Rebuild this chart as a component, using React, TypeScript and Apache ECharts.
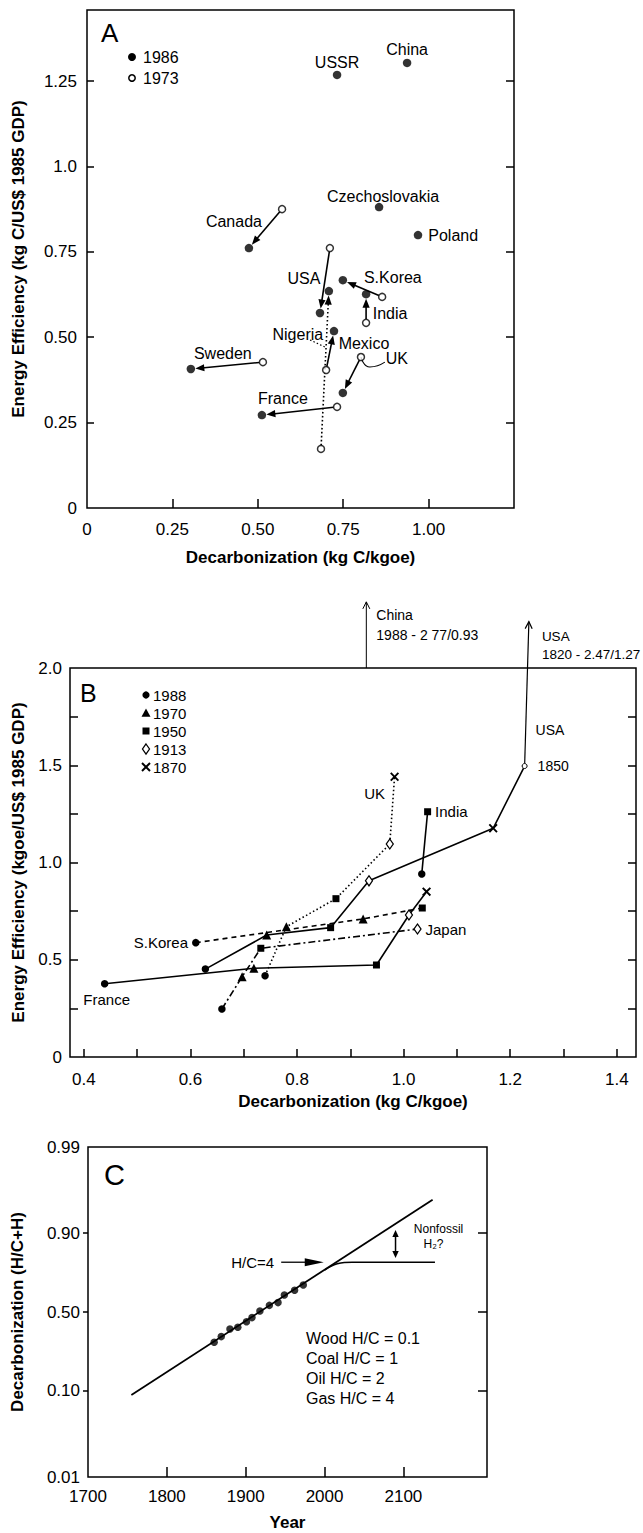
import React, { useEffect, useRef } from 'react';
import * as echarts from 'echarts';

const FONT = '"Liberation Sans", Arial, Helvetica, sans-serif';
const LOGIT = (f: number) => Math.log(f / (1 - f));

// ---------------- Panel A data ----------------
const A_COUNTRIES = ['USSR', 'China', 'Czechoslovakia', 'Poland', 'Canada', 'USA', 'S.Korea', 'India', 'Nigeria', 'Mexico', 'UK', 'Sweden', 'France'];
const A_X_1986 = [0.732, 0.937, 0.855, 0.969, 0.474, 0.682, 0.749, 0.817, 0.708, 0.723, 0.749, 0.304, 0.512];
const A_Y_1986 = [1.268, 1.303, 0.881, 0.799, 0.761, 0.571, 0.667, 0.626, 0.635, 0.518, 0.337, 0.407, 0.272];
const A_X_1973 = [null, null, null, null, 0.571, 0.711, 0.864, 0.817, 0.685, 0.700, 0.802, 0.515, 0.732];
const A_Y_1973 = [null, null, null, null, 0.875, 0.761, 0.618, 0.542, 0.173, 0.404, 0.442, 0.427, 0.296];
const A_LEGEND = ['1986', '1973'];
const A_X_TICKS = [0, 0.25, 0.5, 0.75, 1.0];
const A_X_TICK_LABELS = ['0', '0.25', '0.50', '0.75', '1.00'];
const A_Y_TICKS = [0, 0.25, 0.5, 0.75, 1.0, 1.25];
const A_Y_TICK_LABELS = ['0', '0.25', '0.50', '0.75', '1.0', '1.25'];
const A_UK_LEADER_X = [0.802, 0.828, 0.872];
const A_UK_LEADER_Y = [0.442, 0.413, 0.427];
const A_NIGERIA_LEADER_X = [0.653, 0.697];
const A_NIGERIA_LEADER_Y = [0.492, 0.471];

// ---------------- Panel B data ----------------
const B_YEARS = ['1988', '1970', '1950', '1913', '1870'];
const B_USA_YEARS = ['1988', '1970', '1950', '1913', '1870', '1850'];
const B_USA_X = [0.628, 0.743, 0.863, 0.935, 1.168, 1.227];
const B_USA_Y = [0.452, 0.627, 0.665, 0.906, 1.176, 1.496];
const B_FRANCE_YEARS = ['1988', '1970', '1950', '1913', '1870'];
const B_FRANCE_X = [0.439, 0.719, 0.949, 1.010, 1.043];
const B_FRANCE_Y = [0.377, 0.456, 0.473, 0.730, 0.850];
const B_UK_YEARS = ['1988', '1970', '1950', '1913', '1870'];
const B_UK_X = [0.740, 0.780, 0.873, 0.974, 0.983];
const B_UK_Y = [0.418, 0.670, 0.814, 1.095, 1.441];
const B_SKOREA_YEARS = ['1988', '1970', '1950'];
const B_SKOREA_X = [0.610, 0.924, 1.035];
const B_SKOREA_Y = [0.588, 0.710, 0.766];
const B_JAPAN_YEARS = ['1988', '1970', '1950', '1913'];
const B_JAPAN_X = [0.659, 0.697, 0.732, 1.026];
const B_JAPAN_Y = [0.247, 0.413, 0.559, 0.658];
const B_INDIA_YEARS = ['1988', '1950'];
const B_INDIA_X = [1.034, 1.045];
const B_INDIA_Y = [0.941, 1.261];
const B_CHINA_ARROW_FROM = [0.93, 2.0];
const B_CHINA_ARROW_TO = [0.93, 2.34];
const B_USA_ARROW_TO = [1.235, 2.238];
const B_X_TICKS = [0.4, 0.6, 0.8, 1.0, 1.2, 1.4];
const B_X_MINOR = [0.4, 0.5, 0.6, 0.7, 0.8, 0.9, 1.0, 1.1, 1.2, 1.3, 1.4];
const B_Y_TICKS = [0, 0.5, 1.0, 1.5, 2.0];
const B_Y_TICK_LABELS = ['0', '0.5', '1.0', '1.5', '2.0'];
const B_Y_MINOR = [0.25, 0.5, 0.75, 1.0, 1.25, 1.5, 1.75];

// ---------------- Panel C data ----------------
const C_YEARS = [1860, 1869, 1880, 1890, 1901, 1908, 1918, 1930, 1941, 1949, 1962, 1973];
const C_DECARB = [0.301, 0.335, 0.384, 0.395, 0.433, 0.461, 0.507, 0.546, 0.565, 0.616, 0.647, 0.680];
const C_TREND_YEARS = [1755, 2137];
const C_TREND_VALUES = [0.090, 0.958];
const C_GAS_YEARS = [2000, 2008, 2016, 2025, 2035, 2140];
const C_GAS_VALUES = [0.763, 0.781, 0.793, 0.799, 0.800, 0.800];
const C_HC4_ARROW_YEARS = [1945, 1999];
const C_HC4_LEVEL = 0.8;
const C_GAP_ARROW_YEAR = 2090;
const C_GAP_ARROW_VALUES = [0.9076, 0.818];
const C_X_TICKS = [1700, 1800, 1900, 2000, 2100];
const C_X_MINOR = [1800, 1900, 2000, 2100];
const C_Y_TICKS = [0.01, 0.10, 0.50, 0.90, 0.99];
const C_Y_TICK_LABELS = ['0.01', '0.10', '0.50', '0.90', '0.99'];
const C_Y_MINOR = [0.10, 0.50, 0.90];
const C_HC_RATIOS = ['Wood H/C = 0.1', 'Coal H/C = 1', 'Oil H/C = 2', 'Gas H/C = 4'];

// ---------------- styles / label placement ----------------
const A_LABEL_OFFSET: Record<string, number[]> = {
  USSR: [0, -12], China: [0, -13], Czechoslovakia: [4, -11], Poland: [34, 0],
  Canada: [-15, -27], USA: [-16, -34], 'S.Korea': [50, -3], India: [24, 19],
  Nigeria: [-31, 43], Mexico: [30, 12], UK: [54, -34], Sweden: [32, -15], France: [21, -17],
};
const A_DOTTED = ['Nigeria'];

const CROSS = 'path://M0,1.5L1.5,0L5,3.5L8.5,0L10,1.5L6.5,5L10,8.5L8.5,10L5,6.5L1.5,10L0,8.5L3.5,5Z';
const B_MARKER: Record<string, any> = {
  '1988': { symbol: 'circle', symbolSize: 7.5, itemStyle: { color: '#000' } },
  '1970': { symbol: 'triangle', symbolSize: 9, itemStyle: { color: '#000' } },
  '1950': { symbol: 'rect', symbolSize: 7, itemStyle: { color: '#000' } },
  '1913': { symbol: 'diamond', symbolSize: [7, 10], itemStyle: { color: '#fff', borderColor: '#000', borderWidth: 1.3 } },
  '1870': { symbol: CROSS, symbolSize: 9, itemStyle: { color: '#000' } },
  '1850': { symbol: 'circle', symbolSize: 5, itemStyle: { color: '#fff', borderColor: '#000', borderWidth: 1 } },
};

const tickStyle = { color: '#000', width: 1.5 };
const labelStyle = { color: '#000', fontSize: 17, fontFamily: FONT };
const nameStyle = { color: '#000', fontSize: 17, fontWeight: 'bold', fontFamily: FONT };
const noLine = { show: false, onZero: false };
const plainLabel = { color: '#000', textBorderWidth: 0, textShadowBlur: 0, opacity: 1 };

function lookup(ticks: number[], labels: string[]) {
  return (v: number) => {
    for (let i = 0; i < ticks.length; i++) if (Math.abs(ticks[i] - v) < 1e-6) return labels[i];
    return '';
  };
}

type ArrowText = { text: string; at: 'from' | 'to'; dx: number; dy: number; align?: string; size?: number };
type ArrowItem = {
  from: number[]; to: number[]; head: 'filled' | 'open' | 'double' | 'none';
  dash?: number[]; width?: number; gapStart?: number; gapEnd?: number;
  headLen?: number; headHalf?: number; texts?: ArrowText[];
};

function arrowSeries(items: ArrowItem[], xAxisIndex: number, yAxisIndex: number) {
  return {
    type: 'custom', xAxisIndex, yAxisIndex, z: 2, silent: true, clip: false,
    data: items.map((it) => [it.from[0], it.from[1], it.to[0], it.to[1]]),
    encode: { x: [0, 2], y: [1, 3] },
    renderItem: (params: any, api: any) => {
      const it = items[params.dataIndex];
      const p0 = api.coord([api.value(0), api.value(1)]);
      const p1 = api.coord([api.value(2), api.value(3)]);
      const dx = p1[0] - p0[0], dy = p1[1] - p0[1];
      const len = Math.hypot(dx, dy) || 1;
      const ux = dx / len, uy = dy / len;
      const gs = it.gapStart || 0, ge = it.gapEnd || 0;
      const s = [p0[0] + ux * gs, p0[1] + uy * gs];
      const e = [p1[0] - ux * ge, p1[1] - uy * ge];
      const hl = it.headLen ?? 9, hh = it.headHalf ?? 3.5;
      const lw = it.width ?? 1.6;
      const head = (tip: number[], vx: number, vy: number) => {
        const bx = tip[0] - vx * hl, by = tip[1] - vy * hl;
        return [[bx - vy * hh, by + vx * hh], tip, [bx + vy * hh, by - vx * hh]];
      };
      const children: any[] = [];
      let ls = s, le = e;
      if (it.head === 'filled' || it.head === 'double') le = [e[0] - ux * hl * 0.7, e[1] - uy * hl * 0.7];
      if (it.head === 'double') ls = [s[0] + ux * hl * 0.7, s[1] + uy * hl * 0.7];
      children.push({
        type: 'line', shape: { x1: ls[0], y1: ls[1], x2: le[0], y2: le[1] },
        style: { stroke: '#000', lineWidth: lw, lineDash: it.dash || null, fill: null },
      });
      if (it.head === 'filled' || it.head === 'double') {
        children.push({ type: 'polygon', shape: { points: head(e, ux, uy) }, style: { fill: '#000' } });
      }
      if (it.head === 'double') {
        children.push({ type: 'polygon', shape: { points: head(s, -ux, -uy) }, style: { fill: '#000' } });
      }
      if (it.head === 'open') {
        children.push({ type: 'polyline', shape: { points: head(e, ux, uy) }, style: { stroke: '#000', lineWidth: lw, fill: null } });
      }
      (it.texts || []).forEach((t) => {
        const base = t.at === 'from' ? p0 : p1;
        children.push({
          type: 'text', x: base[0] + t.dx, y: base[1] + t.dy,
          style: { text: t.text, fill: '#000', fontSize: t.size || 14, fontFamily: FONT, align: t.align || 'left', verticalAlign: 'middle' },
        });
      });
      return { type: 'group', children };
    },
  };
}

function bSeries(name: string, years: string[], xs: number[], ys: number[], lineType: any, labels: Record<string, any>) {
  return {
    type: 'line', name, xAxisIndex: 1, yAxisIndex: 2, silent: true, z: 3,
    color: '#000', showAllSymbol: true,
    lineStyle: { color: '#000', width: 1.6, type: lineType },
    data: years.map((yr, i) => {
      const m = B_MARKER[yr];
      const item: any = { value: [xs[i], ys[i]], symbol: m.symbol, symbolSize: m.symbolSize, itemStyle: m.itemStyle };
      if (labels[yr]) item.label = { show: true, ...plainLabel, fontSize: 15, fontFamily: FONT, formatter: name, ...labels[yr] };
      return item;
    }),
  };
}

function buildOption() {
  const aArrows: ArrowItem[] = [];
  A_COUNTRIES.forEach((c, i) => {
    if (A_X_1973[i] == null) return;
    aArrows.push({
      from: [A_X_1973[i] as number, A_Y_1973[i] as number], to: [A_X_1986[i], A_Y_1986[i]],
      head: 'filled', dash: A_DOTTED.includes(c) ? [1.6, 2.4] : undefined, width: 1.6,
      gapStart: 3.5, gapEnd: 4.5, headLen: 9, headHalf: 3.6,
    });
  });

  const bArrows: ArrowItem[] = [
    {
      from: B_CHINA_ARROW_FROM, to: B_CHINA_ARROW_TO, head: 'open', width: 1, headLen: 7, headHalf: 3.5,
      texts: [
        { text: 'China', at: 'to', dx: 10, dy: 13 },
        { text: '1988 - 2 77/0.93', at: 'to', dx: 10, dy: 33 },
      ],
    },
    {
      from: [B_USA_X[5], B_USA_Y[5]], to: B_USA_ARROW_TO, head: 'open', width: 1.2, gapStart: 2.5, headLen: 7, headHalf: 3.5,
      texts: [
        { text: 'USA', at: 'to', dx: 13, dy: 15, size: 13.5 },
        { text: '1820 - 2.47/1.27', at: 'to', dx: 13, dy: 33, size: 13.5 },
        { text: 'USA', at: 'from', dx: 11, dy: -36 },
        { text: '1850', at: 'from', dx: 13, dy: 0 },
      ],
    },
  ];

  const cArrows: ArrowItem[] = [
    {
      from: [C_HC4_ARROW_YEARS[0], LOGIT(C_HC4_LEVEL)], to: [C_HC4_ARROW_YEARS[1], LOGIT(C_HC4_LEVEL)],
      head: 'filled', width: 1.3, headLen: 19, headHalf: 4,
      texts: [{ text: 'H/C=4', at: 'from', dx: -7, dy: 0, align: 'right', size: 15 }],
    },
    {
      from: [C_GAP_ARROW_YEAR, LOGIT(C_GAP_ARROW_VALUES[0])], to: [C_GAP_ARROW_YEAR, LOGIT(C_GAP_ARROW_VALUES[1])],
      head: 'double', width: 1.5, headLen: 7, headHalf: 3.2,
      texts: [
        { text: 'Nonfossil', at: 'from', dx: 43, dy: -1, align: 'center', size: 12 },
        { text: 'H\u2082?', at: 'from', dx: 38, dy: 14, align: 'center', size: 12 },
      ],
    },
  ];

  const graphics: any[] = [];
  const txt = (x: number, y: number, text: string, size: number, align = 'left') => ({
    type: 'text', x, y, silent: true,
    style: { text, fontSize: size, fontFamily: FONT, fill: '#000', align, verticalAlign: 'middle' },
  });
  graphics.push(txt(101, 33, 'A', 26));
  graphics.push(txt(80, 693, 'B', 25));
  graphics.push(txt(104, 1175, 'C', 29));
  A_LEGEND.forEach((lab, i) => {
    const cy = 57 + i * 21;
    graphics.push({
      type: 'circle', shape: { cx: 132, cy, r: i === 0 ? 4 : 3.2 },
      style: i === 0 ? { fill: '#000' } : { fill: '#fff', stroke: '#000', lineWidth: 1.5 },
    });
    graphics.push(txt(143, cy, lab, 16));
  });
  B_YEARS.forEach((yr, i) => {
    const cx = 146, cy = 695 + i * 18;
    let shp: any;
    if (yr === '1988') shp = { type: 'circle', shape: { cx, cy, r: 3.6 }, style: { fill: '#000' } };
    else if (yr === '1970') shp = { type: 'polygon', shape: { points: [[cx, cy - 4.5], [cx + 4.5, cy + 3.8], [cx - 4.5, cy + 3.8]] }, style: { fill: '#000' } };
    else if (yr === '1950') shp = { type: 'rect', shape: { x: cx - 3.5, y: cy - 3.5, width: 7, height: 7 }, style: { fill: '#000' } };
    else if (yr === '1913') shp = { type: 'polygon', shape: { points: [[cx, cy - 5], [cx + 3.5, cy], [cx, cy + 5], [cx - 3.5, cy]] }, style: { fill: '#fff', stroke: '#000', lineWidth: 1.3 } };
    else shp = { type: 'group', children: [
      { type: 'line', shape: { x1: cx - 4, y1: cy - 4, x2: cx + 4, y2: cy + 4 }, style: { stroke: '#000', lineWidth: 2 } },
      { type: 'line', shape: { x1: cx - 4, y1: cy + 4, x2: cx + 4, y2: cy - 4 }, style: { stroke: '#000', lineWidth: 2 } },
    ] };
    graphics.push(shp);
    graphics.push(txt(153, cy, yr, 15));
  });
  C_HC_RATIOS.forEach((t, i) => graphics.push(txt(306, 1338 + i * 20.3, t, 16)));

  const grid = { show: true, borderColor: '#000', borderWidth: 1.5, backgroundColor: 'transparent' };

  return {
    animation: false,
    backgroundColor: '#fff',
    textStyle: { fontFamily: FONT, color: '#000' },
    grid: [
      { ...grid, left: 87, top: 10, width: 427, height: 498 },
      { ...grid, left: 70, top: 668, width: 566, height: 389 },
      { ...grid, left: 88, top: 1147, width: 399, height: 330 },
    ],
    xAxis: [
      {
        gridIndex: 0, type: 'value', min: 0, max: 1.25,
        axisLine: noLine, splitLine: { show: false },
        axisTick: { show: true, inside: true, length: 9, lineStyle: tickStyle, customValues: [0.25, 0.5, 0.75, 1.0] },
        axisLabel: { ...labelStyle, margin: 13, customValues: A_X_TICKS, formatter: lookup(A_X_TICKS, A_X_TICK_LABELS) },
        name: 'Decarbonization (kg C/kgoe)', nameLocation: 'middle', nameGap: 41, nameTextStyle: nameStyle,
      },
      {
        gridIndex: 1, type: 'value', min: 0.374, max: 1.436,
        axisLine: noLine, splitLine: { show: false },
        axisTick: { show: true, inside: true, length: 8, lineStyle: tickStyle, customValues: B_X_MINOR },
        axisLabel: { ...labelStyle, margin: 14, customValues: B_X_TICKS, formatter: (v: number) => v.toFixed(1) },
        name: 'Decarbonization (kg C/kgoe)', nameLocation: 'middle', nameGap: 36, nameTextStyle: nameStyle,
      },
      {
        gridIndex: 2, type: 'value', min: 1700, max: 2206,
        axisLine: noLine, splitLine: { show: false },
        axisTick: { show: true, inside: true, length: 10, lineStyle: tickStyle, customValues: C_X_MINOR },
        axisLabel: { ...labelStyle, margin: 11, customValues: C_X_TICKS, formatter: (v: number) => String(Math.round(v)) },
        name: 'Year', nameLocation: 'middle', nameGap: 37, nameTextStyle: nameStyle,
      },
    ],
    yAxis: [
      {
        gridIndex: 0, type: 'value', min: 0, max: 1.458,
        axisLine: noLine, splitLine: { show: false },
        axisTick: { show: true, inside: true, length: 7, lineStyle: tickStyle, customValues: [0.25, 0.5, 0.75, 1.0, 1.25] },
        axisLabel: { ...labelStyle, margin: 10, customValues: A_Y_TICKS, formatter: lookup(A_Y_TICKS, A_Y_TICK_LABELS) },
        name: 'Energy Efficiency (kg C/US$ 1985 GDP)', nameLocation: 'middle', nameGap: 60, nameRotate: 90, nameTextStyle: nameStyle,
      },
      {
        gridIndex: 0, type: 'value', min: 0, max: 1.458, position: 'right',
        axisLine: noLine, splitLine: { show: false }, axisLabel: { show: false },
        axisTick: { show: true, inside: true, length: 8, lineStyle: tickStyle, customValues: [0.25, 0.5, 0.75, 1.0, 1.25] },
      },
      {
        gridIndex: 1, type: 'value', min: 0, max: 2.0,
        axisLine: noLine, splitLine: { show: false },
        axisTick: { show: true, inside: true, length: 8, lineStyle: tickStyle, customValues: B_Y_MINOR },
        axisLabel: { ...labelStyle, margin: 8, customValues: B_Y_TICKS, formatter: lookup(B_Y_TICKS, B_Y_TICK_LABELS) },
        name: 'Energy Efficiency (kgoe/US$ 1985 GDP)', nameLocation: 'middle', nameGap: 43, nameRotate: 90, nameTextStyle: nameStyle,
      },
      {
        gridIndex: 1, type: 'value', min: 0, max: 2.0, position: 'right',
        axisLine: noLine, splitLine: { show: false }, axisLabel: { show: false },
        axisTick: { show: true, inside: true, length: 8, lineStyle: tickStyle, customValues: B_Y_MINOR },
      },
      {
        gridIndex: 2, type: 'value', min: LOGIT(0.01), max: LOGIT(0.99),
        axisLine: noLine, splitLine: { show: false },
        axisTick: { show: true, inside: false, length: 5, lineStyle: tickStyle, customValues: C_Y_MINOR.map(LOGIT) },
        axisLabel: { ...labelStyle, margin: 8, customValues: C_Y_TICKS.map(LOGIT), formatter: lookup(C_Y_TICKS.map(LOGIT), C_Y_TICK_LABELS) },
        name: 'Decarbonization (H/C+H)', nameLocation: 'middle', nameGap: 62, nameRotate: 90, nameTextStyle: nameStyle,
      },
      {
        gridIndex: 2, type: 'value', min: LOGIT(0.01), max: LOGIT(0.99), position: 'right',
        axisLine: noLine, splitLine: { show: false }, axisLabel: { show: false },
        axisTick: { show: true, inside: true, length: 9, lineStyle: tickStyle, customValues: C_Y_MINOR.map(LOGIT) },
      },
    ],
    graphic: { elements: graphics },
    series: [
      // ---------- Panel A ----------
      arrowSeries(aArrows, 0, 0),
      {
        type: 'line', xAxisIndex: 0, yAxisIndex: 0, silent: true, symbol: 'none', smooth: 0.6, z: 2,
        lineStyle: { color: '#000', width: 1.1 },
        data: A_UK_LEADER_X.map((x, i) => [x, A_UK_LEADER_Y[i]]),
      },
      {
        type: 'line', xAxisIndex: 0, yAxisIndex: 0, silent: true, symbol: 'none', z: 2,
        lineStyle: { color: '#000', width: 1.2, type: [1.5, 2.2] },
        data: A_NIGERIA_LEADER_X.map((x, i) => [x, A_NIGERIA_LEADER_Y[i]]),
      },
      {
        type: 'scatter', name: '1973', xAxisIndex: 0, yAxisIndex: 0, silent: true, z: 4,
        symbol: 'circle', symbolSize: 7,
        itemStyle: { color: '#fff', borderColor: '#000', borderWidth: 1.5 },
        data: A_X_1973.map((x, i) => [x, A_Y_1973[i]]).filter((d) => d[0] != null),
      },
      {
        type: 'scatter', name: '1986', xAxisIndex: 0, yAxisIndex: 0, silent: true, z: 4,
        symbol: 'circle', symbolSize: 8.5, itemStyle: { color: '#000' },
        data: A_COUNTRIES.map((c, i) => {
          const off = A_LABEL_OFFSET[c];
          const lab: any = c === 'Poland'
            ? { show: true, position: 'right', distance: 6, formatter: c }
            : { show: true, position: 'inside', offset: off, formatter: c };
          return { value: [A_X_1986[i], A_Y_1986[i]], label: { ...lab, ...plainLabel, fontSize: 16, fontFamily: FONT } };
        }),
      },
      // ---------- Panel B ----------
      bSeries('USA', B_USA_YEARS, B_USA_X, B_USA_Y, 'solid', {}),
      bSeries('France', B_FRANCE_YEARS, B_FRANCE_X, B_FRANCE_Y, 'solid', { '1988': { position: 'inside', offset: [2, 16] } }),
      bSeries('UK', B_UK_YEARS, B_UK_X, B_UK_Y, [1.5, 2.5], { '1870': { position: 'inside', offset: [-20, 17] } }),
      bSeries('S.Korea', B_SKOREA_YEARS, B_SKOREA_X, B_SKOREA_Y, [5, 4], { '1988': { position: 'left', distance: 4 } }),
      bSeries('Japan', B_JAPAN_YEARS, B_JAPAN_X, B_JAPAN_Y, [7, 3, 2, 3], { '1913': { position: 'right', distance: 4 } }),
      bSeries('India', B_INDIA_YEARS, B_INDIA_X, B_INDIA_Y, 'solid', { '1950': { position: 'right', distance: 4 } }),
      arrowSeries(bArrows, 1, 2),
      // ---------- Panel C ----------
      {
        type: 'line', xAxisIndex: 2, yAxisIndex: 4, silent: true, symbol: 'none', z: 2,
        lineStyle: { color: '#000', width: 1.8 },
        data: C_TREND_YEARS.map((x, i) => [x, LOGIT(C_TREND_VALUES[i])]),
      },
      {
        type: 'line', xAxisIndex: 2, yAxisIndex: 4, silent: true, symbol: 'none', z: 2, smooth: 0.4,
        lineStyle: { color: '#000', width: 1.5 },
        data: C_GAS_YEARS.map((x, i) => [x, LOGIT(C_GAS_VALUES[i])]),
      },
      {
        type: 'scatter', xAxisIndex: 2, yAxisIndex: 4, silent: true, z: 3,
        symbol: 'circle', symbolSize: 7.5, itemStyle: { color: '#000' },
        data: C_YEARS.map((x, i) => [x, LOGIT(C_DECARB[i])]),
      },
      arrowSeries(cArrows, 2, 4),
    ],
  };
}

export default function App() {
  const ref = useRef<HTMLDivElement>(null);
  useEffect(() => {
    document.body.style.margin = '0';
    const chart = echarts.init(ref.current as HTMLDivElement, null, { renderer: 'svg' });
    chart.setOption(buildOption() as any);
    return () => chart.dispose();
  }, []);
  return <div ref={ref} style={{ width: 643, height: 1533 }} />;
}
